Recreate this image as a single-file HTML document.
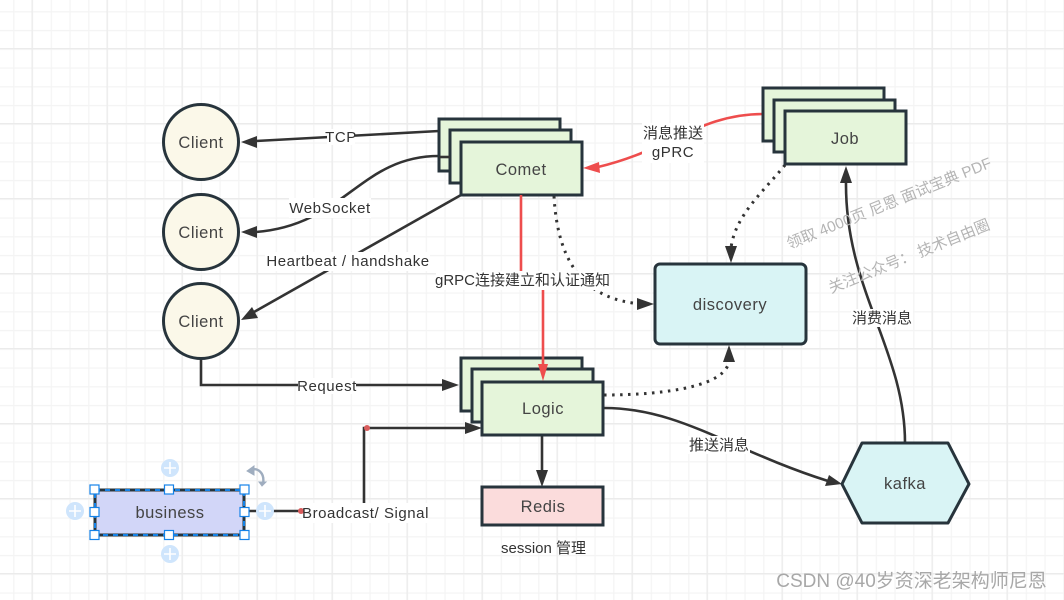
<!DOCTYPE html>
<html><head><meta charset="utf-8">
<style>
html,body{margin:0;padding:0;background:#fff;width:1064px;height:600px;overflow:hidden}
svg{display:block}
text{font-family:"Liberation Sans","Noto Sans CJK SC",sans-serif;fill:#444;font-size:16.5px;letter-spacing:.5px;text-anchor:middle}
.n{stroke:#27343c;stroke-width:3}
.g{fill:#e5f5da}
.e{fill:none;stroke:#333;stroke-width:2.6}
.r{fill:none;stroke:#ee4d4d;stroke-width:2.6}
.d{fill:none;stroke:#333;stroke-width:3;stroke-dasharray:2.5 5.5}
.l{font-size:15px;fill:#333;letter-spacing:.55px}
.c{font-size:15px;fill:#333;letter-spacing:0}
.w{fill:#b4b4b4;font-size:15.3px;letter-spacing:0}
</style></head><body>
<svg width="1064" height="600" viewBox="0 0 1064 600" xmlns="http://www.w3.org/2000/svg">
<defs>
<pattern id="m" width="18.75" height="18.75" patternUnits="userSpaceOnUse" x="13.2" y="11.2">
<path d="M.5 0V18.75M0 .5H18.75" fill="none" stroke="#f4f4f4" stroke-width="1.4"/>
</pattern>
<pattern id="M" width="75" height="75" patternUnits="userSpaceOnUse" x="31.5" y="48">
<path d="M.5 0V75M0 .5H75" fill="none" stroke="#ebebeb" stroke-width="1.4"/>
</pattern>
</defs>
<rect width="1064" height="600" fill="#fff"/>
<rect width="1064" height="600" fill="url(#m)"/>
<rect width="1064" height="600" fill="url(#M)"/>

<!-- connectors -->
<path class="e" d="M439 131L256 141"/>
<path d="M241 142L257 136L257 148Z" fill="#333"/>
<path class="e" d="M439 156C360 156 345 225 256 232"/>
<path d="M241 232L257 226L257 238Z" fill="#333"/>
<path class="e" d="M461 195L254 312"/>
<path d="M241 320L252 307L258 318Z" fill="#333"/>
<path class="e" d="M201 359V385H445"/>
<path d="M459 385L442 379L442 391Z" fill="#333"/>
<path class="e" d="M245 511H300M364 511V428H468"/>
<path d="M482 428L465 422L465 434Z" fill="#333"/>
<circle cx="367" cy="428" r="3" fill="#d95c5c"/>
<path class="e" d="M542 435V472"/>
<path d="M542 487L536 470L548 470Z" fill="#333"/>
<path class="e" d="M604 408C680 408 730 450 828 481"/>
<path d="M842 484L825 486L829 475Z" fill="#333"/>
<path class="e" d="M905 443C905 350 845 290 846 182"/>
<path d="M846 166L840 183L852 183Z" fill="#333"/>
<path class="r" d="M763 114C700 114 670 150 598 167"/>
<path d="M583 168L599 162L600 173Z" fill="#ee4d4d"/>
<path class="d" d="M554 196C558 270 590 300 642 304"/>
<path d="M654 304L637 298L637 310Z" fill="#333"/>
<path class="d" d="M785 165C765 190 735 215 731 248"/>
<path d="M731 263L725 246L737 246Z" fill="#333"/>
<path class="d" d="M604 395C670 395 728 385 729 360"/>
<path d="M729 345L723 362L735 362Z" fill="#333"/>

<!-- nodes -->
<g class="n" fill="#fbf8e9">
<circle cx="201" cy="142" r="37.5"/>
<circle cx="201" cy="232" r="37.5"/>
<circle cx="201" cy="321" r="37.5"/>
</g>
<g class="n g">
<rect x="439" y="119" width="121" height="52"/>
<rect x="450" y="130" width="121" height="53"/>
<rect x="461" y="142" width="121" height="53"/>
<rect x="763" y="88" width="121" height="53"/>
<rect x="774" y="100" width="121" height="52"/>
<rect x="785" y="111" width="121" height="53"/>
<rect x="461" y="358" width="121" height="53"/>
<rect x="472" y="369" width="121" height="53"/>
<rect x="482" y="382" width="121" height="53"/>
</g>
<path d="M439 157H450" stroke="#333" stroke-width="2.6"/>
<path class="r" d="M521 195V280H543V368"/>
<path d="M543 381L538 364L548 364Z" fill="#ee4d4d"/>
<rect class="n" x="655" y="264" width="151" height="80" rx="5" fill="#d9f4f5"/>
<rect class="n" x="482" y="487" width="121" height="38" fill="#fbdcdc"/>
<path class="n" d="M842 484L862 443H948L969 484L948 523H862Z" fill="#d9f4f5" stroke-linejoin="round"/>
<rect x="95" y="490" width="149" height="45" fill="#d2d6f8" stroke="#27343c" stroke-width="3"/>
<rect x="95" y="490" width="149" height="45" fill="none" stroke="#1482e8" stroke-width="2" stroke-dasharray="5 5"/>

<!-- node text -->
<text x="201" y="148">Client</text>
<text x="201" y="238">Client</text>
<text x="201" y="327">Client</text>
<text x="521" y="175">Comet</text>
<text x="845" y="144">Job</text>
<text x="543" y="414">Logic</text>
<text x="730" y="310">discovery</text>
<text x="543" y="512">Redis</text>
<text x="905" y="489">kafka</text>
<text x="170" y="518">business</text>

<!-- edge labels -->
<rect x="327" y="129" width="28" height="16" fill="#fff"/>
<text class="l" x="341" y="142">TCP</text>
<rect x="289" y="198" width="82" height="20" fill="#fff"/>
<text class="l" x="330" y="213">WebSocket</text>
<rect x="265" y="252" width="165" height="19" fill="#fff"/>
<text class="l" x="348" y="266">Heartbeat / handshake</text>
<rect x="436" y="271" width="173" height="19" fill="#fff"/>
<text class="c" x="522.500" y="285">gRPC连接建立和认证通知</text>
<rect x="298" y="378" width="58" height="16" fill="#fff"/>
<text class="l" x="327" y="391">Request</text>
<rect x="302" y="503" width="126" height="20" fill="#fff"/>
<circle cx="301" cy="511" r="3" fill="#d95c5c"/>
<text class="l" x="365.500" y="518">Broadcast/ Signal</text>
<rect x="642" y="123" width="62" height="40" fill="#fff"/>
<text class="c" x="673" y="138">消息推送</text>
<text class="l" x="673" y="157">gPRC</text>
<rect x="688" y="436" width="62" height="18" fill="#fff"/>
<text class="c" x="719" y="450">推送消息</text>
<rect x="851" y="309" width="62" height="18" fill="#fff"/>
<text class="c" x="882" y="323">消费消息</text>
<text class="c" x="543.500" y="553">session 管理</text>

<!-- selection handles -->
<g fill="#cfe5fc">
<circle cx="170" cy="468" r="9"/>
<circle cx="170" cy="554" r="9"/>
<circle cx="75" cy="511" r="9"/>
<circle cx="265" cy="511" r="9"/>
</g>
<g stroke="#fff" stroke-width="1.6">
<path d="M164 468H176M170 462V474"/>
<path d="M164 554H176M170 548V560"/>
<path d="M69 511H81M75 505V517"/>
<path d="M259 511H271M265 505V517"/>
</g>
<g fill="#fff" stroke="#1482e8" stroke-width="1.2">
<rect x="90" y="485" width="9" height="9"/>
<rect x="164.500" y="485" width="9" height="9"/>
<rect x="240" y="485" width="9" height="9"/>
<rect x="90" y="507.500" width="9" height="9"/>
<rect x="240" y="507.500" width="9" height="9"/>
<rect x="90" y="530.500" width="9" height="9"/>
<rect x="164.500" y="530.500" width="9" height="9"/>
<rect x="240" y="530.500" width="9" height="9"/>
</g>
<path d="M250 470C258 467 265 473 263 484" fill="none" stroke="#9fadbf" stroke-width="2.4"/>
<path d="M247 471L254 466L254 475ZM259 482L266 482L262 486Z" fill="#9fadbf" stroke="#9fadbf"/>

<!-- watermarks -->
<text class="w" transform="translate(891 208) rotate(-22)">领取 4000页 尼恩 面试宝典 PDF</text>
<text class="w" transform="translate(911 261) rotate(-22)">关注公众号： 技术自由圈</text>
<text x="911.500" y="587" style="fill:#a8a8a8;font-size:19px;letter-spacing:0">CSDN @40岁资深老架构师尼恩</text>
</svg>
</body></html>
